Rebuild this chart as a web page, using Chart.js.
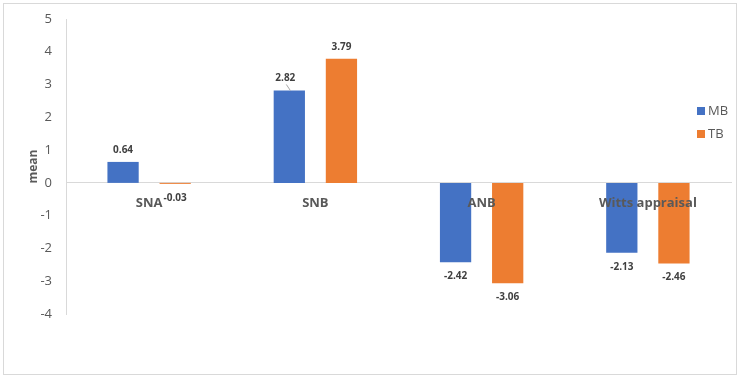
<!DOCTYPE html>
<html>
<head>
<meta charset="utf-8">
<title>mean MB / TB</title>
<script src="https://cdn.jsdelivr.net/npm/chart.js"></script>
<style>
body { margin: 0; background: #fff; }
.wrap { position: relative; width: 744px; height: 380px; }
.frame {
  position: absolute; left: 3px; top: 3px; width: 734px; height: 372px;
  border: 1px solid #d9d9d9; box-sizing: border-box; pointer-events: none;
}
canvas { position: absolute; left: 0; top: 0; }
</style>
</head>
<body>
<div class="wrap">
  <canvas id="chart" width="744" height="380"></canvas>
  <div class="frame"></div>
</div>

<script>
// datos
const categories = ['SNA', 'SNB', 'ANB', 'Witts appraisal'];
const mbValues = [0.64, 2.82, -2.42, -2.13];
const tbValues = [-0.03, 3.79, -3.06, -2.46];
const seriesNames = ['MB', 'TB'];
const colors = ['#4472C4', '#ED7D31'];

const textColor = '#595959';

// etiquetas de valor encima / debajo de cada barra
const valueLabels = {
  id: 'valueLabels',
  afterDatasetsDraw(chart) {
    const ctx = chart.ctx;
    ctx.save();
    ctx.font = 'bold 10px "Open Sans"';
    ctx.fillStyle = '#404040';
    ctx.textAlign = 'center';
    ctx.textBaseline = 'middle';
    chart.data.datasets.forEach((ds, i) => {
      chart.getDatasetMeta(i).data.forEach((bar, j) => {
        const v = ds.data[j];
        let x = bar.x;
        const y = v >= 0 ? bar.y - 12 : bar.y + 14;
        // la etiqueta 2.82 va un poco a la izquierda con linea guia
        if (i === 0 && j === 1) {
          x -= 4;
          ctx.strokeStyle = '#a6a6a6';
          ctx.lineWidth = 1;
          ctx.beginPath();
          ctx.moveTo(x + 1, y + 6);
          ctx.lineTo(bar.x + 1, bar.y);
          ctx.stroke();
        }
        ctx.fillText(v.toFixed(2), x, y);
      });
    });
    ctx.restore();
  }
};

// leyenda a la derecha, dentro del area
const sideLegend = {
  id: 'sideLegend',
  afterDraw(chart) {
    const ctx = chart.ctx;
    ctx.save();
    ctx.font = '13px "Open Sans"';
    ctx.textBaseline = 'middle';
    ctx.textAlign = 'left';
    seriesNames.forEach((name, i) => {
      const y = 111 + i * 23;
      ctx.fillStyle = colors[i];
      ctx.fillRect(697, y - 4, 8, 8);
      ctx.fillStyle = textColor;
      ctx.fillText(name, 708, y);
    });
    ctx.restore();
  }
};

new Chart(document.getElementById('chart'), {
  type: 'bar',
  data: {
    labels: categories,
    datasets: [
      { label: seriesNames[0], data: mbValues, backgroundColor: colors[0] },
      { label: seriesNames[1], data: tbValues, backgroundColor: colors[1] }
    ]
  },
  options: {
    responsive: false,
    animation: false,
    categoryPercentage: 0.627,
    barPercentage: 0.6,
    layout: { padding: { left: 0, top: 19, right: 13, bottom: 66 } },
    plugins: {
      legend: { display: false },
      tooltip: { enabled: false }
    },
    scales: {
      x: {
        position: { y: 0 },
        grid: { display: false },
        border: { display: true, color: '#d9d9d9' },
        ticks: {
          z: 1,
          color: textColor,
          font: { family: 'Open Sans', size: 13, weight: 'bold' },
          padding: 5,
          maxRotation: 0
        }
      },
      y: {
        min: -4,
        max: 5,
        ticks: {
          stepSize: 1,
          color: textColor,
          font: { family: 'Open Sans', size: 13 },
          padding: 6
        },
        grid: { display: false },
        border: { display: true, color: '#d9d9d9' },
        title: {
          display: true,
          text: 'mean',
          color: textColor,
          font: { family: 'Open Sans', size: 12, weight: 'bold' },
          padding: { top: 26, bottom: 4 }
        },
        afterFit(scale) { scale.width = 66; }
      }
    }
  },
  plugins: [valueLabels, sideLegend]
});
</script>
</body>
</html>
